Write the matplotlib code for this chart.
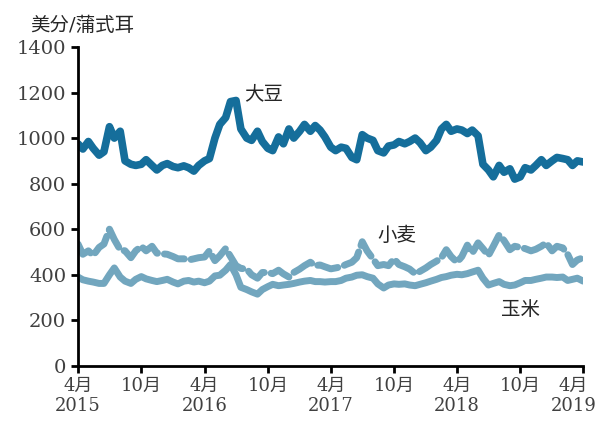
import pandas as pd
import matplotlib
matplotlib.use('Agg')
from matplotlib import pyplot as plt
from matplotlib.transforms import ScaledTranslation

plt.rcParams['font.family'] = ['DejaVu Serif', 'Noto Sans CJK SC']

# half-month dates, Apr 2015 - Apr 2019
dates = pd.date_range('2015-04-01', periods=97, freq='SMS')

soybean = [975, 952, 985, 955, 925, 940, 1050, 1000, 1030, 900,
           885, 880, 885, 905, 880, 860, 880, 888, 875, 870,
           878, 870, 855, 880, 900, 910, 1000, 1060, 1090, 1160,
           1165, 1040, 1000, 990, 1030, 985, 955, 945, 1005, 975,
           1040, 1000, 1030, 1060, 1030, 1055, 1035, 1005, 960, 945,
           960, 955, 915, 905, 1015, 1000, 990, 945, 935, 965,
           970, 985, 975, 985, 1000, 980, 945, 960, 990, 1040,
           1060, 1030, 1040, 1035, 1020, 1035, 1010, 885, 860, 830,
           880, 850, 865, 820, 830, 870, 860, 880, 905, 880,
           900, 915, 910, 905, 880, 900, 895]

wheat = [535, 490, 505, 485, 520, 535, 600, 555, 510, 505,
         475, 505, 525, 505, 525, 495, 492, 490, 480, 470,
         470, 465, 470, 475, 478, 505, 462, 483, 515, 480,
         440, 428, 425, 400, 385, 410, 410, 405, 420, 404,
         390, 410, 425, 440, 455, 440, 443, 435, 426, 430,
         435, 445, 455, 475, 545, 505, 470, 440, 445, 440,
         470, 445, 435, 425, 405, 415, 430, 445, 460, 475,
         510, 480, 455, 480, 530, 495, 540, 515, 485, 525,
         575, 550, 510, 525, 520, 515, 505, 512, 525, 540,
         505, 525, 518, 490, 445, 465, 475]

corn = [390, 378, 372, 368, 362, 362, 400, 430, 390, 372,
        362, 380, 392, 382, 375, 370, 375, 380, 368, 360,
        372, 375, 368, 372, 365, 372, 395, 398, 420, 445,
        400, 345, 335, 325, 315, 335, 348, 358, 352, 355,
        358, 362, 368, 372, 375, 370, 370, 368, 370, 370,
        375, 385, 390, 398, 400, 392, 385, 360, 342, 355,
        360, 358, 360, 355, 352, 358, 365, 372, 380, 388,
        392, 398, 402, 400, 405, 412, 420, 385, 355, 362,
        370, 358, 352, 355, 365, 375, 375, 380, 385, 390,
        390, 388, 390, 375, 380, 385, 372]

dark = '#156e9b'
light = '#72a6be'

fig = plt.figure(figsize=(6, 4.23), dpi=100)
ax = fig.add_axes([0.13, 0.135, 0.842, 0.754])

ax.plot(dates, corn, color=light, lw=5, solid_capstyle='round', solid_joinstyle='round')
ax.plot(dates, wheat, color=light, lw=5, linestyle=(0, (3, 1)), dash_capstyle='round')
ax.plot(dates, soybean, color=dark, lw=5.5, solid_capstyle='round', solid_joinstyle='round')

ax.set_ylim(0, 1400)
ax.set_yticks(range(0, 1401, 200))
ax.set_xlim(dates[0], dates[-1])

ticks = pd.date_range('2015-04-01', '2019-04-01', freq='6MS')
labels = []
for t in ticks:
    if t.month == 4:
        labels.append('%d月\n%d' % (t.month, t.year))
    else:
        labels.append('%d月' % t.month)
ax.set_xticks(ticks)
ax.set_xticklabels(labels, linespacing=1.15)

for s in ['top', 'right']:
    ax.spines[s].set_visible(False)
for s in ['left', 'bottom']:
    ax.spines[s].set_linewidth(2)
ax.tick_params(axis='both', direction='out', length=5, width=2, labelcolor='#404040')
ax.tick_params(axis='y', labelsize=14)
ax.tick_params(axis='x', labelsize=13, pad=3)

# keep the last label inside the figure
last = ax.get_xticklabels()[-1]
last.set_transform(last.get_transform() + ScaledTranslation(-7 / 72, 0, fig.dpi_scale_trans))

ax.text(-0.095, 1.05, '美分/蒲式耳', transform=ax.transAxes, fontsize=14, color='#262626')
ax.text(pd.Timestamp('2016-07-25'), 1170, '大豆', fontsize=14, color='#262626')
ax.text(pd.Timestamp('2017-08-15'), 550, '小麦', fontsize=14, color='#262626')
ax.text(pd.Timestamp('2018-08-05'), 225, '玉米', fontsize=14, color='#262626')

fig.savefig('out.png', dpi=100)
